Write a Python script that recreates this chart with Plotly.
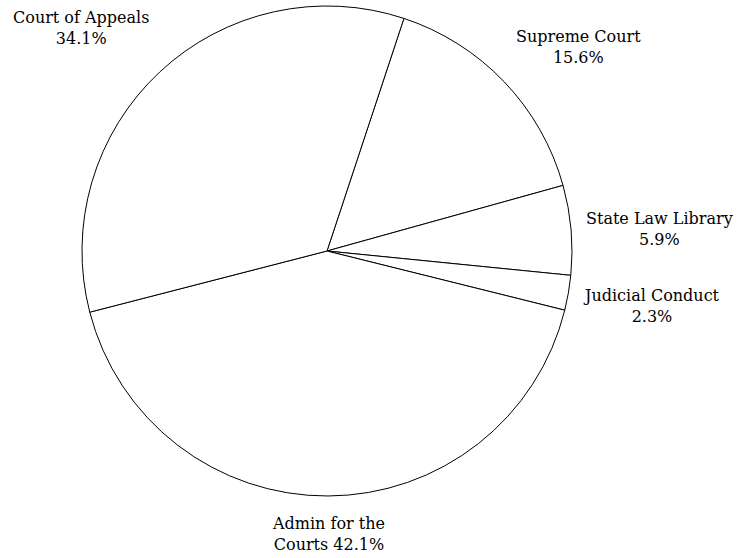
import math
import plotly.graph_objects as go

labels = ["Supreme Court", "State Law Library", "Judicial Conduct", "Admin for the Courts", "Court of Appeals"]
label_lines = ["Supreme Court<br>", "State Law Library<br>", "Judicial Conduct<br>", "Admin for the<br>Courts ", "Court of Appeals<br>"]
values = [15.6, 5.9, 2.3, 42.1, 34.1]

# style: fine vertical nudges (px) for each label
label_yshift = [4, 0, -11, -3, 13]

ROTATION = 18.3
FONT = dict(family="DejaVu Serif", size=16, color="black")

fig = go.Figure(go.Pie(
    labels=labels,
    values=values,
    textinfo="none",
    sort=False,
    direction="clockwise",
    rotation=ROTATION,
    marker=dict(colors=["white"] * len(values), line=dict(color="black", width=1)),
    showlegend=False,
    hoverinfo="label+percent",
))

# label annotations placed outside each slice along its mid-angle
plot_px = 490.0
label_r = 258.0
total = sum(values)
cum = 0.0
annotations = []
for lab, v, ys in zip(label_lines, values, label_yshift):
    mid = ROTATION + 360.0 * (cum + v / 2.0) / total
    cum += v
    s = math.sin(math.radians(mid))
    c = math.cos(math.radians(mid))
    xa = "left" if s > 0.3 else ("right" if s < -0.3 else "center")
    ya = "bottom" if c > 0.3 else ("top" if c < -0.3 else "middle")
    pct = 100.0 * v / total
    annotations.append(dict(
        x=0.5 + label_r * s / plot_px,
        y=0.5 + label_r * c / plot_px,
        xref="paper", yref="paper",
        text=f"{lab}{pct:.1f}%",
        showarrow=False,
        xanchor=xa, yanchor=ya,
        yshift=ys,
        align="center",
        font=FONT,
    ))

fig.update_layout(
    width=740, height=558,
    margin=dict(l=82, r=168, t=6, b=62),
    paper_bgcolor="white",
    plot_bgcolor="white",
    annotations=annotations,
)

fig.write_html("out.html", config={"displayModeBar": False},
               post_script="document.body.style.margin='0';")
